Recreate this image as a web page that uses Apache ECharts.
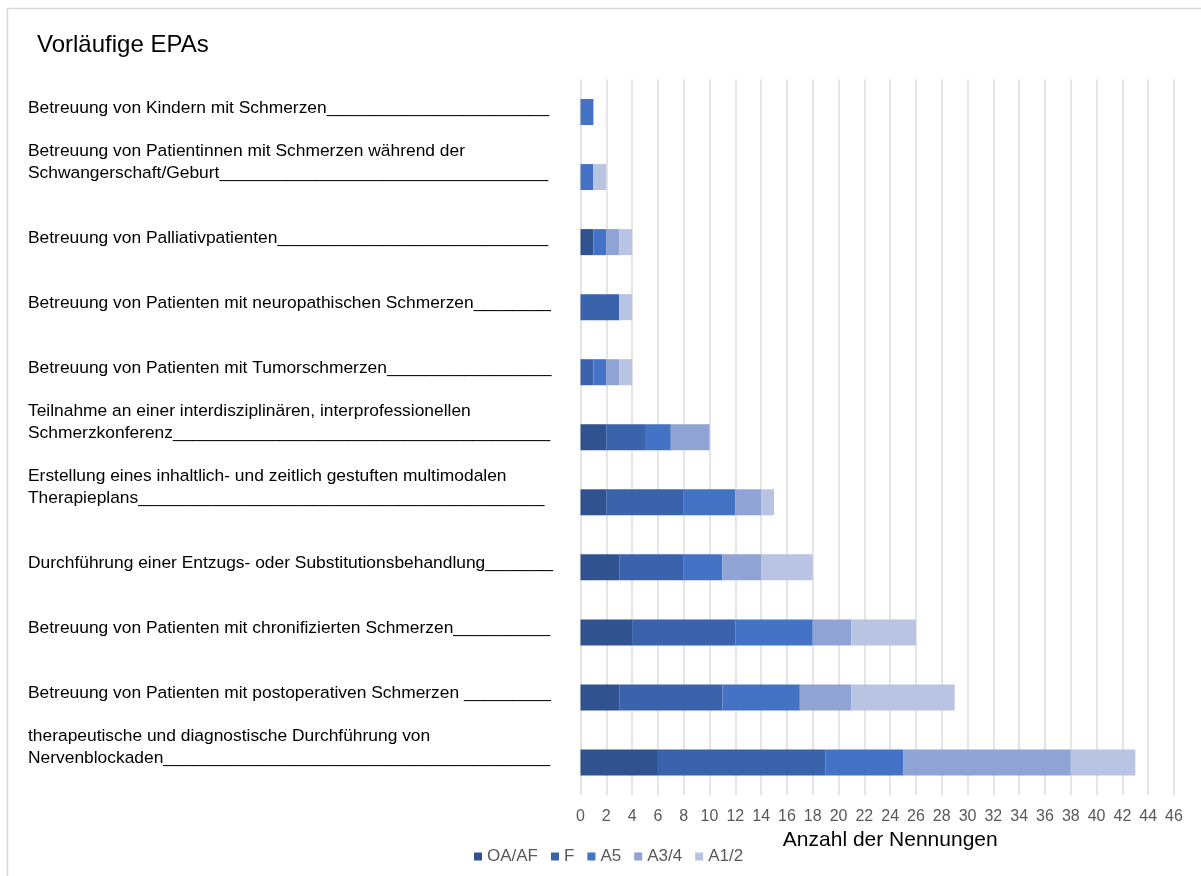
<!DOCTYPE html>
<html>
<head>
<meta charset="utf-8">
<title>Vorläufige EPAs</title>
<script src="https://cdn.jsdelivr.net/npm/echarts@6.0.0/dist/echarts.min.js"></script>
<style>
  html, body { margin: 0; padding: 0; background: #fff; }
  #chart { width: 1201px; height: 876px; }
</style>
</head>
<body>
<div id="chart"></div>
<script>
// Zeilen von oben nach unten, Unterstriche wie im Original
var u = function(n) { return '_'.repeat(n) }
var categories = [
  'Betreuung von Kindern mit Schmerzen' + u(23),
  'Betreuung von Patientinnen mit Schmerzen während der\nSchwangerschaft/Geburt' + u(34),
  'Betreuung von Palliativpatienten' + u(28),
  'Betreuung von Patienten mit neuropathischen Schmerzen' + u(8),
  'Betreuung von Patienten mit Tumorschmerzen' + u(17),
  'Teilnahme an einer interdisziplinären, interprofessionellen\nSchmerzkonferenz' + u(39),
  'Erstellung eines inhaltlich- und zeitlich gestuften multimodalen\nTherapieplans' + u(42),
  'Durchführung einer Entzugs- oder Substitutionsbehandlung' + u(7),
  'Betreuung von Patienten mit chronifizierten Schmerzen' + u(10),
  'Betreuung von Patienten mit postoperativen Schmerzen ' + u(9),
  'therapeutische und diagnostische Durchführung von\nNervenblockaden' + u(40)
]

var seriesNames = ['OA/AF', 'F', 'A5', 'A3/4', 'A1/2']
var oaAf = [0, 0, 1, 0, 0, 2, 2, 3, 4, 3, 6]
var f = [0, 0, 0, 3, 1, 3, 6, 5, 8, 8, 13]
var a5 = [1, 1, 1, 0, 1, 2, 4, 3, 6, 6, 6]
var a34 = [0, 0, 1, 0, 1, 3, 2, 3, 3, 4, 13]
var a12 = [0, 1, 1, 1, 1, 0, 1, 4, 5, 8, 5]
var values = [oaAf, f, a5, a34, a12]
var colors = ['#30538f', '#3b63ab', '#4472c4', '#8fa3d4', '#b9c3e2']

var FONT = '"Liberation Sans", Arial, sans-serif'

var chart = echarts.init(document.getElementById('chart'))

chart.setOption({
  animation: false,
  color: colors,
  textStyle: { fontFamily: FONT },
  title: {
    text: 'Vorläufige EPAs',
    left: 32,
    top: 28,
    textStyle: { fontFamily: FONT, fontSize: 24, fontWeight: 'normal', color: '#000' }
  },
  graphic: [{
    type: 'rect',
    silent: true,
    shape: { x: 7.5, y: 8.5, width: 1220, height: 900 },
    style: { fill: 'none', stroke: '#d9d9d9', lineWidth: 1.5 }
  }],
  legend: {
    data: seriesNames,
    left: 469,
    top: 843,
    icon: 'rect',
    itemWidth: 8,
    itemHeight: 8,
    itemGap: 13,
    textStyle: { fontFamily: FONT, fontSize: 17, color: '#595959' }
  },
  grid: {
    left: 580.5,
    right: 27,
    top: 79.5,
    bottom: 81,
    outerBoundsMode: 'none'
  },
  xAxis: {
    type: 'value',
    min: 0,
    max: 46,
    interval: 2,
    name: 'Anzahl der Nennungen',
    nameLocation: 'middle',
    nameGap: 27,
    nameTextStyle: { fontFamily: FONT, fontSize: 21, color: '#000', padding: [0, 0, 0, 26] },
    axisLine: { show: false },
    axisTick: { show: false },
    axisLabel: { fontFamily: FONT, fontSize: 16, color: '#595959', margin: 14 },
    splitLine: { lineStyle: { color: '#dcdcdc', width: 1.5 } }
  },
  yAxis: {
    type: 'category',
    inverse: true,
    data: categories,
    axisLine: { show: false },
    axisTick: { show: false },
    axisLabel: {
      interval: 0,
      align: 'left',
      verticalAlign: 'bottom',
      margin: 552.5,
      color: '#000',
      fontFamily: FONT,
      fontSize: 17.4,
      formatter: function(val) {
        var lines = val.split('\n')
        return lines.map(function(l, i) {
          return (i === lines.length - 1 ? '{b|' : '{a|') + l + '}'
        }).join('\n')
      },
      rich: {
        a: { fontFamily: FONT, fontSize: 17.4, color: '#000', lineHeight: 36 },
        b: { fontFamily: FONT, fontSize: 17.4, color: '#000', lineHeight: 8 }
      }
    }
  },
  series: seriesNames.map(function(name, i) {
    return {
      name: name,
      type: 'bar',
      stack: 'total',
      barWidth: '40%',
      data: values[i],
      itemStyle: { color: colors[i] }
    }
  })
})
</script>
</body>
</html>
